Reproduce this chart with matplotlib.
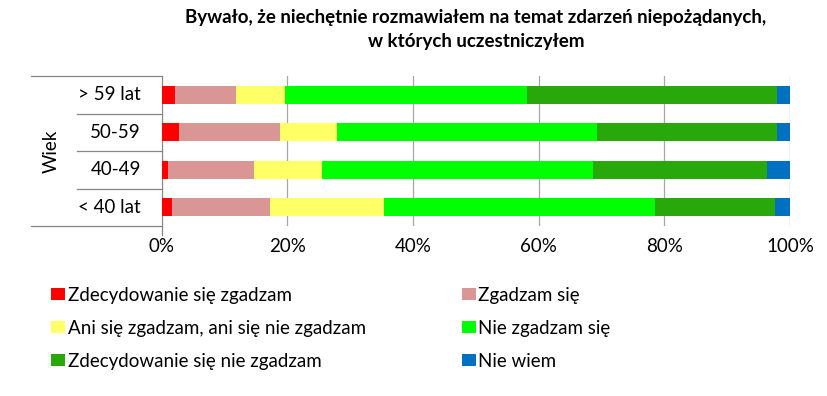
import matplotlib
matplotlib.use("Agg")
import matplotlib.pyplot as plt
from matplotlib.patches import Patch
import numpy as np

plt.rcParams['font.family'] = ['Lato', 'DejaVu Sans']

# --------------------------------------------
# Data (percent of respondents, per age group)
# --------------------------------------------
groups = ["< 40 lat", "40-49", "50-59", "> 59 lat"]
zdecydowanie_zgadzam = [1.7, 1.0, 2.8, 2.1]
zgadzam = [15.6, 13.7, 16.1, 9.8]
ani_ani = [18.1, 10.8, 9.0, 7.7]
nie_zgadzam = [43.1, 43.2, 41.4, 38.5]
zdecydowanie_nie = [19.1, 27.6, 28.6, 39.9]
nie_wiem = [2.4, 3.7, 2.1, 2.0]

series = [zdecydowanie_zgadzam, zgadzam, ani_ani, nie_zgadzam, zdecydowanie_nie, nie_wiem]
labels = ["Zdecydowanie się zgadzam", "Zgadzam się",
          "Ani się zgadzam, ani się nie zgadzam", "Nie zgadzam się",
          "Zdecydowanie się nie zgadzam", "Nie wiem"]
colors = ["#FF0000", "#D99694", "#FFFF66", "#00FF00", "#29A80C", "#0070C0"]

title = "Bywało, że niechętnie rozmawiałem na temat zdarzeń niepożądanych,\nw których uczestniczyłem"

# --------------------------------------------
# Figure
# --------------------------------------------
W, H = 827, 396
fig = plt.figure(figsize=(W / 100, H / 100), dpi=100)
x0, x1, ytop, ybot = 161.5, 790, 76, 226
ax = fig.add_axes([x0 / W, 1 - ybot / H, (x1 - x0) / W, (ybot - ytop) / H])

y = np.arange(len(groups))
left = np.zeros(len(groups))
for vals, lab, col in zip(series, labels, colors):
    ax.barh(y, vals, left=left, height=0.47, color=col, label=lab, zorder=3)
    left += np.array(vals)

ax.set_xlim(0, 100)
ax.set_ylim(-0.5, len(groups) - 0.5)
ax.set_xticks(np.arange(0, 101, 20))
ax.set_xticklabels([f"{v}%" for v in range(0, 101, 20)], fontsize=13.5)
ax.tick_params(axis='x', length=0, pad=9)
ax.set_yticks([])
ax.grid(axis='x', color='#A6A6A6', linewidth=0.9, zorder=0)
for s in ['top', 'right', 'bottom']:
    ax.spines[s].set_visible(False)
ax.spines['left'].set_color('#868686')

# multi-level category axis
tr = ax.transAxes
for i, g in enumerate(groups):
    ax.text(-0.033, (i + 0.5) / len(groups), g, transform=tr, ha='right', va='center', fontsize=13.5)
for i in range(1, len(groups)):
    ax.plot([-0.1345, 0], [i / len(groups)] * 2, transform=tr, color='#868686', lw=0.9, clip_on=False)
for yy in (0, 1):
    ax.plot([-0.208, 0], [yy, yy], transform=tr, color='#868686', lw=0.9, clip_on=False)
ax.plot([0, 0], [-0.06, 0], transform=tr, color='#868686', lw=0.9, clip_on=False)
ax.text(-0.176, 0.5, "Wiek", transform=tr, rotation=90, ha='center', va='center', fontsize=13.5)

fig.text(476 / W, 1 - 30 / H, title, ha='center', va='center', fontsize=13.5,
         fontweight='bold', linespacing=1.5)

# legend, filled row by row
order = [0, 2, 4, 1, 3, 5]
handles = [Patch(facecolor=colors[i], label=labels[i]) for i in order]
fig.legend(handles=handles, ncol=2, loc='upper left', bbox_to_anchor=(34 / W, 1 - 270 / H),
           frameon=False, fontsize=13.5, handlelength=0.75, handleheight=0.6,
           handletextpad=0.15, columnspacing=5.1, labelspacing=0.85)

fig.savefig("out.png", dpi=100)
